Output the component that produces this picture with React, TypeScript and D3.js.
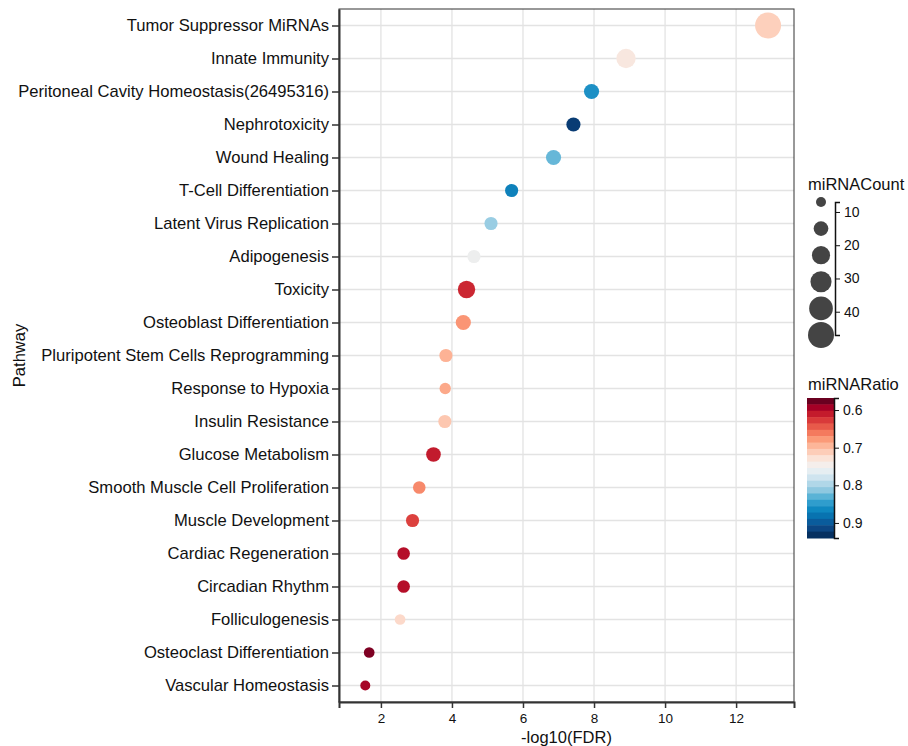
import React, { useEffect, useRef } from 'react';
import * as d3 from 'd3';

// pathways top to bottom
const pathways = [
  'Tumor Suppressor MiRNAs',
  'Innate Immunity',
  'Peritoneal Cavity Homeostasis(26495316)',
  'Nephrotoxicity',
  'Wound Healing',
  'T-Cell Differentiation',
  'Latent Virus Replication',
  'Adipogenesis',
  'Toxicity',
  'Osteoblast Differentiation',
  'Pluripotent Stem Cells Reprogramming',
  'Response to Hypoxia',
  'Insulin Resistance',
  'Glucose Metabolism',
  'Smooth Muscle Cell Proliferation',
  'Muscle Development',
  'Cardiac Regeneration',
  'Circadian Rhythm',
  'Folliculogenesis',
  'Osteoclast Differentiation',
  'Vascular Homeostasis',
];

const log10FDR = [12.9, 8.9, 7.93, 7.42, 6.86, 5.68, 5.1, 4.62, 4.41, 4.32, 3.83, 3.81, 3.8, 3.48, 3.08, 2.89, 2.64, 2.64, 2.54, 1.67, 1.56];
const miRNACount = [47, 26, 16, 14, 16, 12, 12, 12, 21, 16, 12, 9, 12, 15, 11, 12, 11, 11, 8, 8, 7];
const miRNARatio = [0.712, 0.735, 0.862, 0.93, 0.83, 0.875, 0.81, 0.754, 0.61, 0.672, 0.69, 0.684, 0.705, 0.603, 0.665, 0.625, 0.595, 0.595, 0.72, 0.574, 0.588];

const xTicks = [2, 4, 6, 8, 10, 12];
const countTicks = [10, 20, 30, 40];
const countLegendValues = [7, 15, 23, 31, 39, 47];
const ratioTicks = [0.6, 0.7, 0.8, 0.9];

// palette, red (low) to blue (high)
const palette = ['#6a0020', '#a50026', '#c41b2c', '#d93a3a', '#e85a4a', '#f47a5e', '#fb9a78', '#fdb699', '#fdcdb8', '#fbe3d7', '#f5eeeb', '#e6eef2', '#cfe4ef', '#b0d7e8', '#8ec8e0', '#5ab3d6', '#2f9dcd', '#0f88c0', '#0873b0', '#0a5c9c', '#0c4683', '#053061'];

const FONT = "'Liberation Sans', Arial, sans-serif";

const App = () => {
  const svgRef = useRef<SVGSVGElement>(null);

  useEffect(() => {
    const svg = d3.select(svgRef.current);
    svg.selectAll('*').remove();

    const plot = { left: 339, right: 794, top: 9, bottom: 702 };

    const x = d3.scaleLinear().domain([0.82, 13.63]).range([plot.left, plot.right]);
    const y = d3.scalePoint().domain(pathways).range([plot.top, plot.bottom]).padding(0.5);
    const r = d3.scaleRadial().domain([7, 47]).range([5, 13]);
    const ratioDomain = [0.568, 0.94];
    const interp = d3.interpolateRgbBasis(palette);
    const color = (v: number) => interp((v - ratioDomain[0]) / (ratioDomain[1] - ratioDomain[0]));

    const data = pathways.map((p, i) => ({
      pathway: p,
      fdr: log10FDR[i],
      count: miRNACount[i],
      ratio: miRNARatio[i],
    }));

    svg.attr('font-family', FONT);

    // grid
    svg.append('g')
      .selectAll('line')
      .data(xTicks)
      .enter().append('line')
      .attr('x1', d => x(d)).attr('x2', d => x(d))
      .attr('y1', plot.top).attr('y2', plot.bottom)
      .attr('stroke', '#e3e3e3').attr('stroke-width', 1.3);

    svg.append('g')
      .selectAll('line')
      .data(pathways)
      .enter().append('line')
      .attr('x1', plot.left).attr('x2', plot.right)
      .attr('y1', d => y(d)!).attr('y2', d => y(d)!)
      .attr('stroke', '#e3e3e3').attr('stroke-width', 1.3);

    // panel border
    svg.append('rect')
      .attr('x', plot.left).attr('y', plot.top)
      .attr('width', plot.right - plot.left).attr('height', plot.bottom - plot.top)
      .attr('fill', 'none').attr('stroke', '#333').attr('stroke-width', 1);

    // points
    svg.append('g')
      .selectAll('circle')
      .data(data)
      .enter().append('circle')
      .attr('cx', d => x(d.fdr))
      .attr('cy', d => y(d.pathway)!)
      .attr('r', d => r(d.count))
      .attr('fill', d => color(d.ratio));

    // axes
    const yAxis = svg.append('g')
      .attr('transform', `translate(${plot.left},0)`)
      .call(d3.axisLeft(y).tickSize(7).tickSizeOuter(0).tickPadding(3));
    yAxis.select('.domain').attr('stroke', '#333').attr('stroke-width', 2);
    yAxis.selectAll('.tick line').attr('stroke', '#333').attr('stroke-width', 1.5);
    yAxis.selectAll('text').attr('font-size', 16.6).attr('fill', '#111').attr('font-family', FONT);

    const xAxis = svg.append('g')
      .attr('transform', `translate(0,${plot.bottom})`)
      .call(d3.axisBottom(x).tickValues(xTicks).tickSize(6).tickSizeOuter(6).tickPadding(5));
    xAxis.select('.domain').attr('stroke', '#333').attr('stroke-width', 2);
    xAxis.selectAll('.tick line').attr('stroke', '#333').attr('stroke-width', 1.5);
    xAxis.selectAll('text').attr('font-size', 13.5).attr('fill', '#111').attr('font-family', FONT);

    svg.append('text')
      .attr('x', (plot.left + plot.right) / 2).attr('y', 743)
      .attr('text-anchor', 'middle').attr('font-size', 16.5).attr('fill', '#111')
      .text('-log10(FDR)');

    svg.append('text')
      .attr('transform', `translate(25,${(plot.top + plot.bottom) / 2}) rotate(-90)`)
      .attr('text-anchor', 'middle').attr('font-size', 16.5).attr('fill', '#111')
      .text('Pathway');

    // size legend
    svg.append('text')
      .attr('x', 808).attr('y', 190)
      .attr('font-size', 16.5).attr('fill', '#111')
      .text('miRNACount');

    const sizeY = d3.scaleLinear().domain([7, 47]).range([202, 335]);
    svg.append('g')
      .selectAll('circle')
      .data(countLegendValues)
      .enter().append('circle')
      .attr('cx', 821)
      .attr('cy', d => sizeY(d))
      .attr('r', d => r(d))
      .attr('fill', '#444');

    const sizeAxis = svg.append('g')
      .attr('transform', 'translate(835,0)')
      .call(d3.axisRight(sizeY).tickValues(countTicks).tickSize(5).tickSizeOuter(5).tickPadding(4));
    sizeAxis.select('.domain').attr('stroke', '#111').attr('stroke-width', 1.5);
    sizeAxis.selectAll('.tick line').attr('stroke', '#111');
    sizeAxis.selectAll('text').attr('font-size', 14).attr('fill', '#111').attr('font-family', FONT);

    // colour legend
    svg.append('text')
      .attr('x', 808).attr('y', 390)
      .attr('font-size', 16.5).attr('fill', '#111')
      .text('miRNARatio');

    const ratioY = d3.scaleLinear().domain(ratioDomain).range([398, 538]);
    const nBands = 22;
    const bandEdges = d3.range(nBands + 1).map(i => ratioDomain[0] + (ratioDomain[1] - ratioDomain[0]) * i / nBands);
    svg.append('g')
      .selectAll('rect')
      .data(d3.range(nBands))
      .enter().append('rect')
      .attr('x', 807).attr('width', 27)
      .attr('y', i => ratioY(bandEdges[i]))
      .attr('height', i => ratioY(bandEdges[i + 1]) - ratioY(bandEdges[i]) + 0.5)
      .attr('fill', i => palette[i]);

    const ratioAxis = svg.append('g')
      .attr('transform', 'translate(834,0)')
      .call(d3.axisRight(ratioY).tickValues(ratioTicks).tickFormat(d3.format('.1f')).tickSize(5).tickSizeOuter(5).tickPadding(4));
    ratioAxis.select('.domain').attr('stroke', '#111').attr('stroke-width', 1.5);
    ratioAxis.selectAll('.tick line').attr('stroke', '#111');
    ratioAxis.selectAll('text').attr('font-size', 14).attr('fill', '#111').attr('font-family', FONT);
  }, []);

  return (
    <svg ref={svgRef} width={908} height={746} style={{ position: 'absolute', left: 0, top: 0, background: '#fff' }}></svg>
  );
};

export default App;
